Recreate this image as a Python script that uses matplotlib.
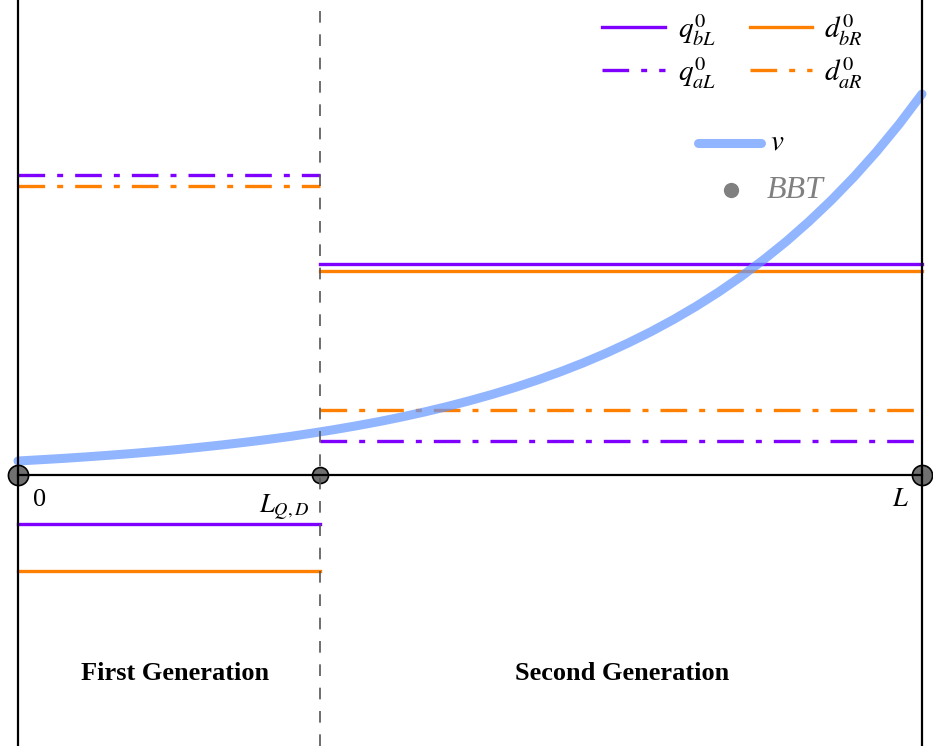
import matplotlib
matplotlib.use("Agg")
import matplotlib.pyplot as plt

plt.rcParams['font.family'] = ['Liberation Serif', 'DejaVu Serif']
plt.rcParams['mathtext.fontset'] = 'stix'

# positions along the line (0 .. L)
L = 1.0
L_QD = 0.334

# levels in first generation [0, L_QD] and second generation [L_QD, L]
q_bL = [-0.49, 2.11]
d_bR = [-0.96, 2.04]
q_aL = [3.00, 0.34]
d_aR = [2.89, 0.65]

# v curve
v_x = [0.0, 0.025, 0.05, 0.075, 0.10, 0.125, 0.15, 0.175, 0.20, 0.225,
       0.25, 0.275, 0.30, 0.325, 0.35, 0.375, 0.40, 0.425, 0.45, 0.475,
       0.50, 0.525, 0.55, 0.575, 0.60, 0.625, 0.65, 0.675, 0.70, 0.725,
       0.75, 0.775, 0.80, 0.825, 0.85, 0.875, 0.90, 0.925, 0.95, 0.975, 1.0]
v_y = [0.14, 0.153, 0.166, 0.181, 0.197, 0.214, 0.233, 0.253, 0.276, 0.300,
       0.326, 0.354, 0.384, 0.418, 0.454, 0.493, 0.535, 0.581, 0.631, 0.685,
       0.744, 0.807, 0.876, 0.951, 1.032, 1.120, 1.216, 1.320, 1.432, 1.554,
       1.686, 1.829, 1.985, 2.154, 2.336, 2.535, 2.750, 2.983, 3.236, 3.511, 3.81]

purple = '#8000ff'
orange = '#ff8000'
blue = (0.39, 0.59, 1.0)
lw_lev = 2.4
dashdot = (0, (8.0, 3.6, 1.8, 3.6))

fig = plt.figure(figsize=(9.33, 7.46), dpi=100)
ax = fig.add_axes([0, 0, 1, 1])
ax.set_xlim(-0.0199, 1.0122)
ax.set_ylim(-2.71, 4.75)
ax.axis('off')

gens = [(0, L_QD), (L_QD, L)]
for i, (a, b) in enumerate(gens):
    ax.plot([a, b], [q_bL[i]] * 2, color=purple, lw=lw_lev, zorder=3)
    ax.plot([a, b], [d_bR[i]] * 2, color=orange, lw=lw_lev, zorder=3)
    ax.plot([a, b], [q_aL[i]] * 2, color=purple, lw=lw_lev, ls=dashdot, zorder=3)
    ax.plot([a, b], [d_aR[i]] * 2, color=orange, lw=lw_lev, ls=dashdot, zorder=3)

ax.plot(v_x, v_y, color=blue, alpha=0.7, lw=6.5, solid_capstyle='round',
        solid_joinstyle='round', zorder=4)

# frame lines
ax.axvline(0, color='black', lw=1.6, zorder=5)
ax.axvline(L, color='black', lw=1.6, zorder=5)
ax.axvline(L_QD, color='#555555', lw=1.2, ls=(0, (7, 7)), zorder=5)
ax.plot([0, L], [0, 0], color='black', lw=1.6, zorder=5)

# BBT points
ax.plot([0, L], [0, 0], 'o', ms=14.5, mfc='#707070', mec='black', mew=1.2, ls='none', zorder=4.5)
ax.plot([L_QD], [0], 'o', ms=11.5, mfc='#707070', mec='black', mew=1.2, zorder=4.5)

ax.text(0.024, -0.25, '0', fontsize=19, ha='center', va='center')
ax.text(L_QD - 0.04, -0.33, '$L_{Q,D}$', fontsize=19, ha='center', va='center')
ax.text(0.976, -0.25, '$L$', fontsize=19, ha='center', va='center')

ax.text(0.174, -1.99, 'First Generation', fontsize=19, fontweight='bold',
        ha='center', va='center')
ax.text(0.668, -1.99, 'Second Generation', fontsize=19, fontweight='bold',
        ha='center', va='center')

# legend drawn by hand (axes fraction from pixel position)
W, H = 933.0, 746.0
def fx(px):
    return px / W
def fy(py):
    return 1 - py / H

tr = ax.transAxes
ax.plot([fx(602), fx(665)], [fy(27)] * 2, color=purple, lw=lw_lev, transform=tr)
ax.plot([fx(750), fx(812)], [fy(27)] * 2, color=orange, lw=lw_lev, transform=tr)
ax.plot([fx(602), fx(665)], [fy(70)] * 2, color=purple, lw=lw_lev, ls=dashdot, transform=tr)
ax.plot([fx(750), fx(812)], [fy(70)] * 2, color=orange, lw=lw_lev, ls=dashdot, transform=tr)
ax.text(fx(678), fy(30), r'$q_{bL}^{\mathit{0}}$', fontsize=21, ha='left', va='center', transform=tr)
ax.text(fx(824), fy(30), r'$d_{bR}^{\mathit{0}}$', fontsize=21, ha='left', va='center', transform=tr)
ax.text(fx(678), fy(73), r'$q_{aL}^{\mathit{0}}$', fontsize=21, ha='left', va='center', transform=tr)
ax.text(fx(824), fy(73), r'$d_{aR}^{\mathit{0}}$', fontsize=21, ha='left', va='center', transform=tr)

ax.plot([fx(698), fx(761)], [fy(143)] * 2, color=blue, alpha=0.7, lw=6.5,
        solid_capstyle='round', transform=tr)
ax.text(fx(770), fy(142), '$v$', fontsize=21, ha='left', va='center', transform=tr)
ax.plot([fx(731)], [fy(190)], 'o', ms=11, color='#808080', mec='none', transform=tr)
ax.text(fx(767), fy(190), 'BBT', fontsize=23, style='italic', color='#808080',
        ha='left', va='center', transform=tr)

fig.savefig('out.png', dpi=100)
